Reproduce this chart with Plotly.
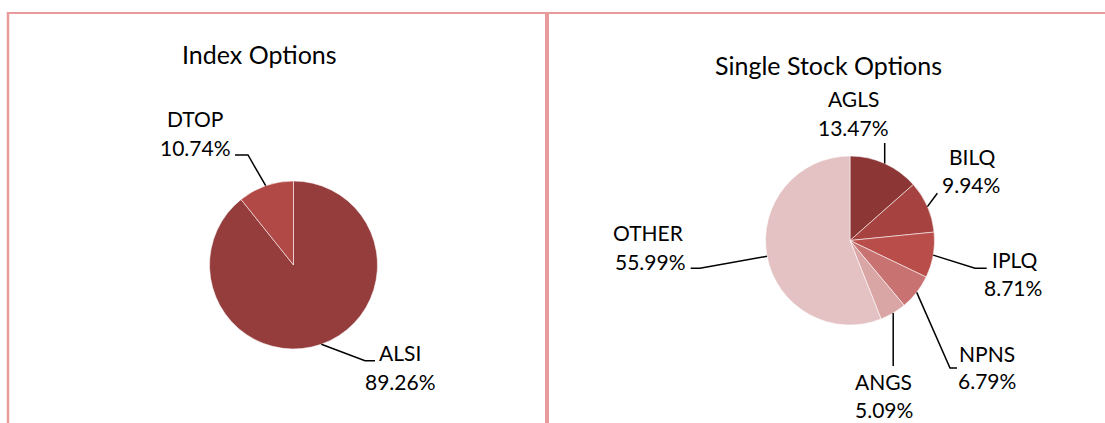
import math
import plotly.graph_objects as go

W, H = 1105, 423

# ---------------- data ----------------
index_title = "Index Options"
index_labels = ["ALSI", "DTOP"]
index_values = [89.26, 10.74]

stock_title = "Single Stock Options"
stock_labels = ["AGLS", "BILQ", "IPLQ", "NPNS", "ANGS", "OTHER"]
stock_values = [13.47, 9.94, 8.71, 6.79, 5.09, 55.99]

# ---------------- style / layout ----------------
index_colors = ["#953C3C", "#B14A47"]
stock_colors = ["#8C3636", "#A64341", "#B94D49", "#C87271", "#DAA5A5", "#E4C2C4"]
FONT = "Lato"
LABEL_SIZE = 21
TITLE_SIZE = 25
BORDER = "#E99A9A"
TEXT_DY = -1.5  # small vertical correction for text baseline

# pie geometry in pixels: centre x, centre y, radius
index_geo = (293.5, 265.0, 84.0)
stock_geo = (850.0, 240.5, 84.5)

# label placement (pixels): name line centre, pct line centre, elbow, end of horizontal tail
index_place = {
    "ALSI": dict(name=(400, 353.5), pct=(400.5, 382.5), elbow=(365, 360.7), tail=(375, 360.7)),
    "DTOP": dict(name=(195, 120), pct=(195, 149), elbow=(248, 155), tail=(235, 155)),
}
stock_place = {
    "AGLS": dict(name=(853.8, 100), pct=(853.3, 129), elbow=(884.7, 143), tail=None),
    "BILQ": dict(name=(972, 157.5), pct=(971.3, 186), elbow=(937.3, 193.3), tail=None),
    "IPLQ": dict(name=(1014.7, 260.8), pct=(1012.8, 289), elbow=(975, 268.3), tail=(986.7, 268.3)),
    "NPNS": dict(name=(987, 355), pct=(987, 382), elbow=(950, 368), tail=(957, 368)),
    "ANGS": dict(name=(883, 383), pct=(884, 411), elbow=None, tail=None, vend=366),
    "OTHER": dict(name=(648.3, 234), pct=(650, 262.5), elbow=(700, 268.3), tail=(690.7, 268.3)),
}
title_pos = {index_title: (259, 54), stock_title: (828, 65)}


def px(x):
    return x / W


def py(y):
    return 1 - y / H


def domain(geo):
    cx, cy, r = geo
    return dict(x=[px(cx - r), px(cx + r)], y=[py(cy + r), py(cy - r)])


fig = go.Figure()
for labels, values, colors, geo in [
    (index_labels, index_values, index_colors, index_geo),
    (stock_labels, stock_values, stock_colors, stock_geo),
]:
    fig.add_trace(go.Pie(
        labels=labels, values=values, sort=False, direction="clockwise", rotation=0,
        marker=dict(colors=colors, line=dict(color="rgba(255,255,255,0.8)", width=0.7)),
        textinfo="none", hoverinfo="label+percent", showlegend=False,
        domain=domain(geo),
    ))

annotations = []
shapes = []


def add_labels(labels, values, geo, place):
    cx, cy, r = geo
    total = sum(values)
    cum = 0.0
    for lab, val in zip(labels, values):
        mid = (cum + val / 2) / total * 2 * math.pi
        cum += val
        sx = cx + r * math.sin(mid)
        sy = cy - r * math.cos(mid)
        p = place[lab]
        pts = [(sx, sy)]
        if p.get("elbow") is not None:
            pts.append(p["elbow"])
        elif p.get("vend") is not None:
            pts.append((sx, p["vend"]))
        if p.get("tail") is not None:
            pts.append(p["tail"])
        path = "M " + " L ".join(f"{px(x):.5f},{py(y):.5f}" for x, y in pts)
        shapes.append(dict(type="path", xref="paper", yref="paper", path=path,
                           line=dict(color="black", width=1.5)))
        pct = f"{val:.2f}%"
        for txt, (tx, ty) in [(lab, p["name"]), (pct, p["pct"])]:
            annotations.append(dict(
                text=txt, x=px(tx), y=py(ty + TEXT_DY), xref="paper", yref="paper",
                xanchor="center", yanchor="middle", showarrow=False,
                font=dict(family=FONT, size=LABEL_SIZE, color="black")))


add_labels(index_labels, index_values, index_geo, index_place)
add_labels(stock_labels, stock_values, stock_geo, stock_place)

for t, (tx, ty) in title_pos.items():
    annotations.append(dict(text=t, x=px(tx), y=py(ty), xref="paper", yref="paper",
                            xanchor="center", yanchor="middle", showarrow=False,
                            font=dict(family=FONT, size=TITLE_SIZE, color="black")))

# panel borders
for x0, y0, x1, y1, w in [(7, 13, W, 13, 2), (8, 12, 8, H, 2.5), (547, 12, 547, H, 4)]:
    shapes.append(dict(type="line", xref="paper", yref="paper",
                       x0=px(x0), y0=py(y0), x1=px(x1), y1=py(y1),
                       line=dict(color=BORDER, width=w)))

fig.update_layout(
    width=W, height=H, margin=dict(l=0, r=0, t=0, b=0),
    paper_bgcolor="white", plot_bgcolor="white",
    annotations=annotations, shapes=shapes,
)

fig.write_html(
    "out.html",
    config={"displayModeBar": False},
    post_script="document.body.style.margin='0px';document.body.style.overflow='hidden';",
)
